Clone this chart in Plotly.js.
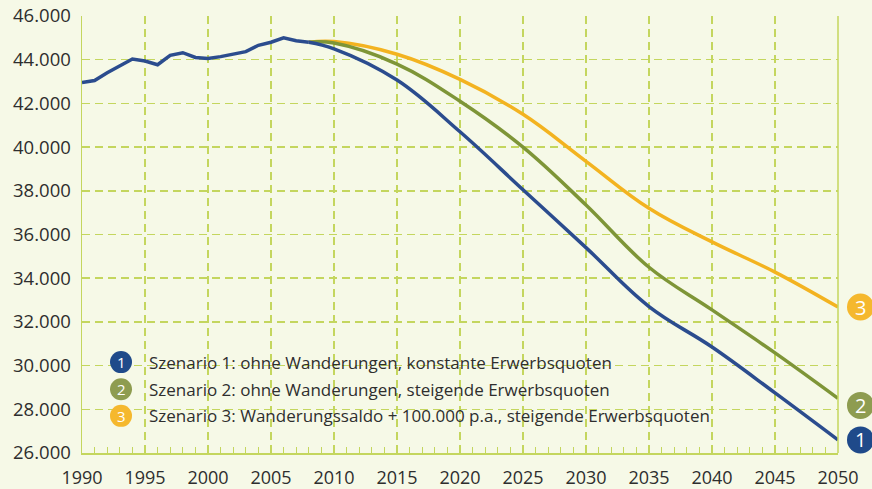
<!DOCTYPE html>
<html>
<head>
<meta charset="utf-8">
<script src="https://cdn.plot.ly/plotly-3.0.1.min.js"></script>
<style>
html,body{margin:0;padding:0;background:#f6f9e7;}
#chart{width:872px;height:489px;}
</style>
</head>
<body>
<div id="chart"></div>
<script>
// ---- data (Erwerbspersonen, in Tausend) ----
var histYears = [1990,1991,1992,1993,1994,1995,1996,1997,1998,1999,2000,2001,2002,2003,2004,2005,2006,2007,2008];
var histValues = [42950,43050,43400,43700,44030,43940,43770,44200,44320,44100,44060,44140,44250,44370,44660,44800,45000,44870,44800];

var projYears = [2008,2010,2015,2020,2025,2030,2035,2040,2045,2050];
var scen1 = [44800,44500,43070,40700,38050,35400,32700,30850,28750,26600];
var scen2 = [44800,44760,43800,42100,40000,37350,34500,32550,30580,28500];
var scen3 = [44800,44830,44250,43100,41500,39350,37200,35660,34280,32680];

var scenNames = [
  "Szenario 1: ohne Wanderungen, konstante Erwerbsquoten",
  "Szenario 2: ohne Wanderungen, steigende Erwerbsquoten",
  "Szenario 3: Wanderungssaldo + 100.000 p.a., steigende Erwerbsquoten"
];
var scenLabels = ["1","2","3"];
var yTickVals = [26000,28000,30000,32000,34000,36000,38000,40000,42000,44000,46000];
var yRange = [26000,46000];
var xRange = [1990,2050];

// ---- styles ----
var lineCols = ["#2b4c8e","#7e9537","#f3b320"];
var dotCols = ["#1f4a8a","#8e9c50","#f5b82e"];
var gridCol = "#c4d65e";
var textCol = "#2e2e2e";
var FONT = "Open Sans, sans-serif";

var traces = [];
var projData = [scen1, scen2, scen3];
[2,1,0].forEach(function(i){
  traces.push({
    x: projYears, y: projData[i], type:"scatter", mode:"lines",
    line:{color:lineCols[i], width:3.5, shape:"spline", smoothing:1.1},
    hoverinfo:"skip", showlegend:false
  });
});
traces.push({
  x: histYears, y: histValues, type:"scatter", mode:"lines",
  line:{color:lineCols[0], width:3.5},
  hoverinfo:"skip", showlegend:false
});

var shapes = [
  {type:"line", xref:"paper", yref:"paper", x0:1, x1:1, y0:0, y1:1,
   line:{color:gridCol, width:1.5}}
];
var annotations = [];

function yFrac(v){ return (v - yRange[0]) / (yRange[1] - yRange[0]); }

// end-of-line numbered circles (outside the plot area, right edge)
var endOffsets = [0,-7,0];
projData.forEach(function(arr,i){
  var ya = yFrac(arr[arr.length-1]);
  shapes.push({type:"circle", xref:"paper", yref:"paper", xsizemode:"pixel", ysizemode:"pixel",
    xanchor:1, yanchor:ya, x0:9, x1:36, y0:-13.5+endOffsets[i], y1:13.5+endOffsets[i],
    fillcolor:dotCols[i], line:{width:0}, layer:"above"});
  annotations.push({xref:"paper", yref:"paper", x:1, y:ya, xshift:22.5, yshift:endOffsets[i],
    xanchor:"center", yanchor:"middle",
    text:scenLabels[i], showarrow:false,
    font:{family:FONT, size:20, color:"#ffffff"}});
});

// legend built from circles + text
var legRowsY = [0.208, 0.146, 0.085];
scenNames.forEach(function(name,i){
  shapes.push({type:"circle", xref:"paper", yref:"paper", xsizemode:"pixel", ysizemode:"pixel",
    xanchor:0.0516, yanchor:legRowsY[i], x0:-11, x1:11, y0:-11, y1:11,
    fillcolor:dotCols[i], line:{width:0}, layer:"above"});
  annotations.push({xref:"paper", yref:"paper", x:0.0516, y:legRowsY[i],
    text:scenLabels[i], showarrow:false, xanchor:"center", yanchor:"middle",
    font:{family:FONT, size:15, color:"#ffffff"}});
  annotations.push({xref:"paper", yref:"paper", x:0.086, y:legRowsY[i],
    text:name, showarrow:false, xanchor:"left", yanchor:"middle",
    font:{family:FONT, size:17, color:textCol}});
});

var layout = {
  width:872, height:489,
  paper_bgcolor:"#f6f9e7", plot_bgcolor:"#f6f9e7",
  margin:{l:82, r:34, t:16, b:36},
  separators:",.",
  showlegend:false,
  font:{family:FONT, color:textCol},
  xaxis:{
    range:xRange, tick0:1990, dtick:5,
    showgrid:true, gridcolor:gridCol, gridwidth:1.5, griddash:"8px,5px",
    showline:true, linecolor:gridCol, linewidth:1.5,
    ticks:"inside", ticklen:8, tickcolor:gridCol, tickwidth:1.5,
    minor:{dtick:1, ticks:"inside", ticklen:6, tickcolor:gridCol, tickwidth:1.2, showgrid:false},
    ticklabelstandoff:8,
    tickfont:{family:FONT, size:18, color:textCol},
    zeroline:false, fixedrange:true
  },
  yaxis:{
    range:yRange, tickvals:yTickVals, tickformat:",d",
    showgrid:true, gridcolor:gridCol, gridwidth:1.5, griddash:"8px,5px",
    showline:true, linecolor:gridCol, linewidth:1.5,
    ticks:"", ticklabelstandoff:6,
    tickfont:{family:FONT, size:18.5, color:textCol},
    zeroline:false, fixedrange:true
  },
  shapes:shapes,
  annotations:annotations
};

Plotly.newPlot("chart", traces, layout, {staticPlot:true, displayModeBar:false});
</script>
</body>
</html>
